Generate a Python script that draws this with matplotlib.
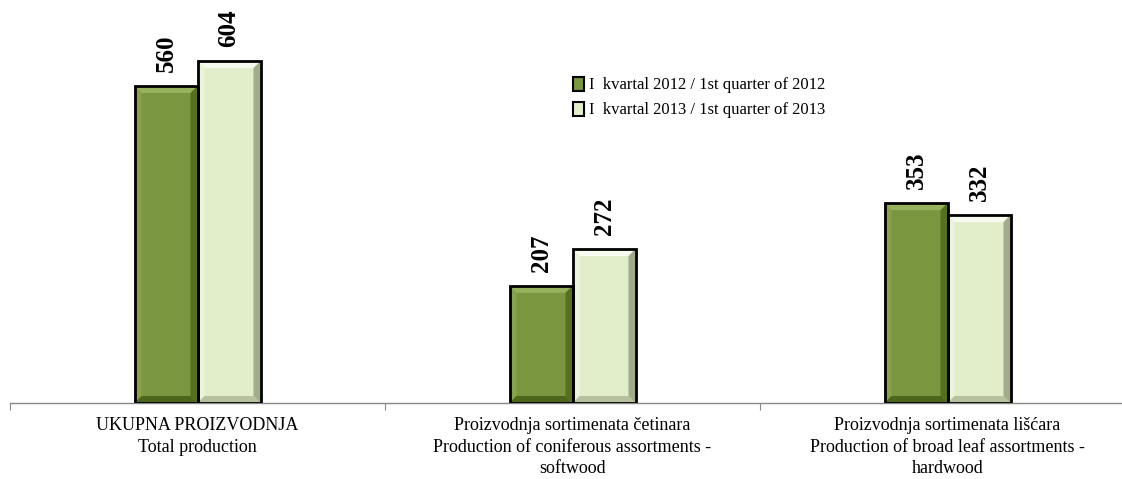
import matplotlib.pyplot as plt
from matplotlib.patches import Polygon, Patch

categories = ["UKUPNA PROIZVODNJA\nTotal production",
              "Proizvodnja sortimenata četinara\nProduction of coniferous assortments -\nsoftwood",
              "Proizvodnja sortimenata lišćara\nProduction of broad leaf assortments -\nhardwood"]
series_names = ["I  kvartal 2012 / 1st quarter of 2012",
                "I  kvartal 2013 / 1st quarter of 2013"]
q1_2012 = [560, 207, 353]
q1_2013 = [604, 272, 332]

plt.rcParams['font.family'] = ['Liberation Serif', 'DejaVu Serif']

fig = plt.figure(figsize=(11.22, 4.79), dpi=100)
ax = fig.add_axes([10/1122, 1-403/479, 1125/1122, 403/479])
ax.set_xlim(-0.5, 2.5)
ax.set_ylim(0, 712)

w = 0.168
styles = [
    # face, top, left, right, bottom bevels
    ("#7A963E", "#97B25C", "#87A34A", "#56701F", "#4E661C"),
    ("#E2EECA", "#F7FBEF", "#EBF3DA", "#A2AC8C", "#B7C1A0"),
]

# bevel size in data units (about 7 px)
inv = ax.transData.inverted()
p0 = inv.transform((0, 0))
p1 = inv.transform((7, 7))
bx, by = p1[0]-p0[0], p1[1]-p0[1]

for k, vals in enumerate([q1_2012, q1_2013]):
    off = -w/2 if k == 0 else w/2
    xs = [i + off for i in range(len(vals))]
    face, top, left, right, bottom = styles[k]
    bars = ax.bar(xs, vals, width=w, color=face, edgecolor='none', zorder=2)
    for b in bars:
        x0, x1 = b.get_x(), b.get_x() + b.get_width()
        y0, y1 = 0, b.get_height()
        ax.add_patch(Polygon([(x0, y1), (x1, y1), (x1-bx, y1-by), (x0+bx, y1-by)],
                             closed=True, color=top, lw=0, zorder=3))
        ax.add_patch(Polygon([(x0, y1), (x0+bx, y1-by), (x0+bx, y0+by), (x0, y0)],
                             closed=True, color=left, lw=0, zorder=3))
        ax.add_patch(Polygon([(x1, y1), (x1, y0), (x1-bx, y0+by), (x1-bx, y1-by)],
                             closed=True, color=right, lw=0, zorder=3))
        ax.add_patch(Polygon([(x0, y0), (x1, y0), (x1-bx, y0+by), (x0+bx, y0+by)],
                             closed=True, color=bottom, lw=0, zorder=3))
    ax.bar(xs, vals, width=w, fill=False, edgecolor='black', linewidth=2, zorder=4)
    for x, v in zip(xs, vals):
        ax.annotate(str(v), (x, v), xytext=(0, 10), textcoords='offset points',
                    rotation=90, ha='center', va='bottom', fontsize=18,
                    fontweight='bold', zorder=5)

for s in ['top', 'right', 'left']:
    ax.spines[s].set_visible(False)
ax.spines['bottom'].set_color('#888888')
ax.spines['bottom'].set_linewidth(1)
ax.set_yticks([])
ax.set_xticks([-0.5, 0.5, 1.5, 2.5])
ax.set_xticklabels([])
ax.tick_params(axis='x', length=5, color='#888888', direction='out')
ax.set_xticks([0, 1, 2], minor=True)
ax.set_xticklabels(categories, minor=True, fontsize=13, linespacing=1.36)
ax.tick_params(axis='x', which='minor', length=0, pad=10)

handles = [Patch(facecolor=styles[0][0], edgecolor='black', linewidth=1.5),
           Patch(facecolor=styles[1][0], edgecolor='black', linewidth=1.5)]
fig.legend(handles, series_names, loc='upper left', bbox_to_anchor=(566/1122, 1-70/479),
           frameon=False, fontsize=12, handlelength=0.65, handleheight=0.9,
           handletextpad=0.3, labelspacing=0.5, borderaxespad=0)

fig.savefig("out.png", dpi=100)
